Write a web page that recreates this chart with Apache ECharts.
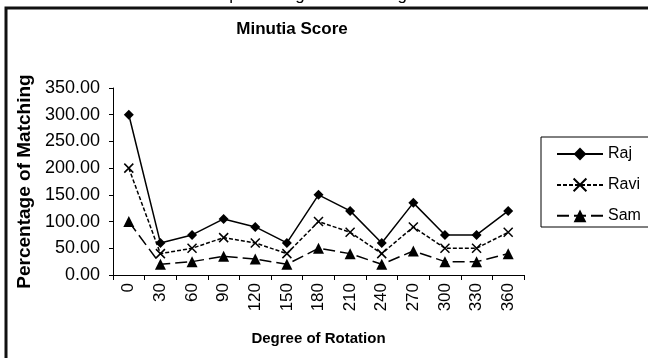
<!DOCTYPE html>
<html><head><meta charset="utf-8">
<script src="https://cdn.jsdelivr.net/npm/echarts@6/dist/echarts.min.js"></script>
<style>html,body{margin:0;padding:0;background:#fff}#c{width:648px;height:358px}</style>
</head><body><div id="c"></div>
<script>
const categories = ['0','30','60','90','120','150','180','210','240','270','300','330','360'];
const raj  = [300, 60, 75, 105, 90, 60, 150, 120, 60, 135, 75, 75, 120];
const ravi = [200, 40, 50, 70, 60, 40, 100, 80, 40, 90, 50, 50, 80];
const sam  = [100, 20, 25, 35, 30, 20, 50, 40, 20, 45, 25, 25, 40];
const yTicks = {min: 0, max: 350, interval: 50};

const crossPath = 'path://M0,0L10,10M10,0L0,10';
const font = 'Liberation Sans, Arial, sans-serif';
const chart = echarts.init(document.getElementById('c'));
chart.setOption({
  animation: false,
  backgroundColor: '#fff',
  title: {
    text: 'Minutia Score', left: 287, top: 16, textAlign: 'center',
    textStyle: {fontFamily: font, fontSize: 17, fontWeight: 'bold', color: '#000'}
  },
  graphic: [
    {type: 'rect', shape: {x: 6, y: 8, width: 660, height: 370},
     style: {fill: 'none', stroke: '#111', lineWidth: 3}, z: 100},
    {type: 'text', style: {text: 'percentage of matching', x: 318, y: -13, textAlign: 'center',
      font: '17px Liberation Sans, Arial, sans-serif', fill: '#000'}},
    {type: 'rect', shape: {x: 541, y: 137, width: 110, height: 90},
     style: {fill: '#fff', stroke: '#000', lineWidth: 1}, z: 1}
  ],
  legend: {
    orient: 'vertical', left: 551, top: 141, itemGap: 14, itemWidth: 46, itemHeight: 16,
    textStyle: {fontFamily: font, fontSize: 16, color: '#000'},
    data: ['Raj', 'Ravi', 'Sam'],
    z: 5
  },
  grid: {left: 113, right: 124, top: 88, bottom: 83},
  xAxis: {
    type: 'category', data: categories, boundaryGap: true,
    name: 'Degree of Rotation', nameLocation: 'middle', nameGap: 56,
    nameTextStyle: {fontFamily: font, fontSize: 15, fontWeight: 'bold', color: '#000'},
    axisLine: {lineStyle: {color: '#000', width: 1}},
    axisTick: {show: true, alignWithLabel: false, length: 5, lineStyle: {color: '#000'}},
    axisLabel: {rotate: 90, fontFamily: font, fontSize: 17, color: '#000', margin: 8, interval: 0}
  },
  yAxis: {
    type: 'value', min: yTicks.min, max: yTicks.max, interval: yTicks.interval,
    name: 'Percentage of Matching', nameLocation: 'middle', nameGap: 77, nameRotate: 90,
    nameTextStyle: {fontFamily: font, fontSize: 19, fontWeight: 'bold', color: '#000'},
    axisLine: {show: true, lineStyle: {color: '#000'}},
    axisTick: {show: true, length: 4, lineStyle: {color: '#000'}},
    splitLine: {show: false},
    axisLabel: {fontFamily: font, fontSize: 18, color: '#000', margin: 13,
      formatter: v => v.toFixed(2)}
  },
  series: [
    {name: 'Raj', type: 'line', data: raj, symbol: 'diamond', symbolSize: 10,
     lineStyle: {color: '#000', width: 1.5, type: 'solid'}, itemStyle: {color: '#000'}},
    {name: 'Ravi', type: 'line', data: ravi, symbol: crossPath, symbolSize: 9,
     lineStyle: {color: '#000', width: 1.5, type: [4, 2]},
     itemStyle: {color: 'none', borderColor: '#000', borderWidth: 1.5}},
    {name: 'Sam', type: 'line', data: sam, symbol: 'triangle', symbolSize: 11,
     lineStyle: {color: '#000', width: 1.5, type: [12, 5]}, itemStyle: {color: '#000'}}
  ]
});
</script></body></html>
